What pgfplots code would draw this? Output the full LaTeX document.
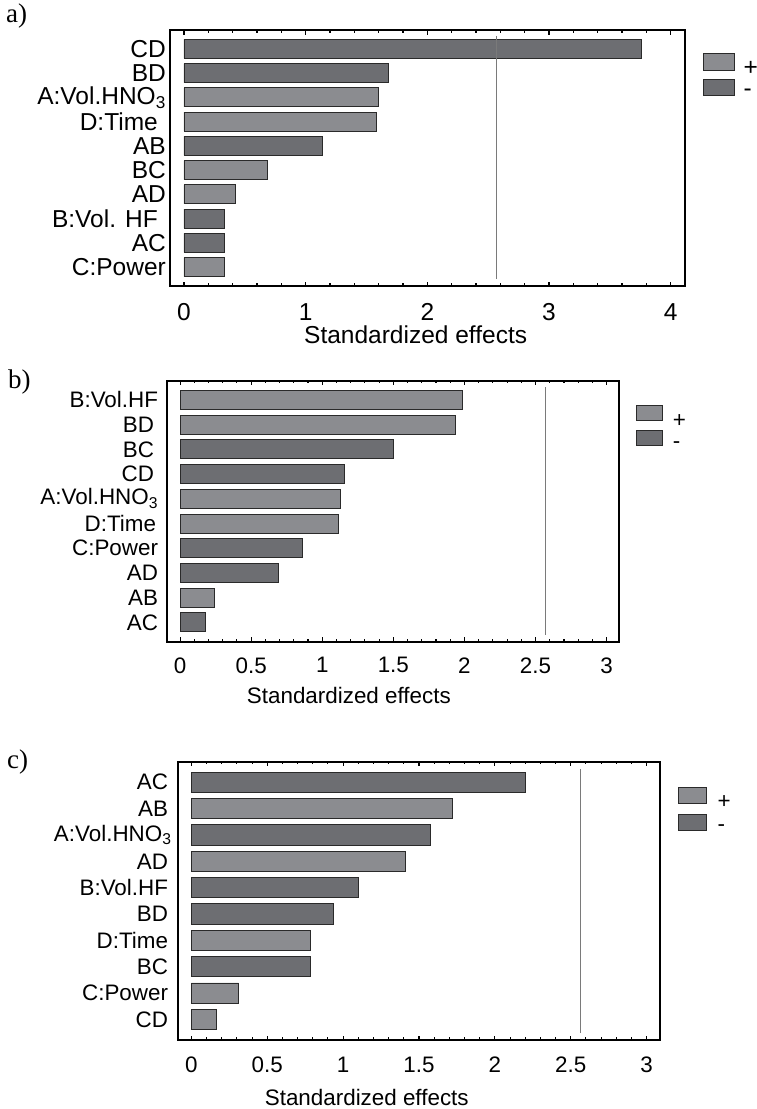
\documentclass[border=0pt]{standalone}
\usepackage{fontspec}
\setmainfont{Liberation Sans}
\newfontfamily\seriffont{Liberation Serif}
\usepackage{pgfplots}
\pgfplotsset{compat=1.18}
\definecolor{barlight}{HTML}{8B8C90}
\definecolor{bardark}{HTML}{6D6E72}
\definecolor{barline}{HTML}{2A2A2A}
\definecolor{refline}{HTML}{7A7A7A}

\pgfplotsset{
  effstyle/.style={
    scale only axis,
    xbar, bar shift=0pt,
    axis line style={line width=1.9pt},
    tick align=inside,
    xtick pos=both,
    ytick style={draw=none},
    minor x tick num=4,
    major tick length=4.5pt,
    minor tick length=2.7pt,
    every tick/.style={black, line width=1.1pt},
    ymin=-0.78, ymax=9.78,
    ytick={0,...,9},
    /pgf/number format/assume math mode=true,
    legend cell align=left,
    yticklabel style={anchor=east, inner sep=0pt},
    xticklabel style={anchor=north, inner sep=0pt},
    xlabel={Standardized effects},
  },
  plusbar/.style={fill=barlight, draw=barline, line width=0.9pt, bar width=#1,
    legend image code/.code={\draw[fill=barlight, draw=barline, line width=0.9pt] (0pt,-\legh) rectangle (\legw,\legh);}},
  minusbar/.style={fill=bardark, draw=barline, line width=0.9pt, bar width=#1,
    legend image code/.code={\draw[fill=bardark, draw=barline, line width=0.9pt] (0pt,-\legh) rectangle (\legw,\legh);}},
}
\newcommand{\legh}{8.35pt}
\newcommand{\legw}{31.3pt}

\begin{document}
\begin{tikzpicture}
\path[use as bounding box] (0,0) rectangle (757pt,-1109pt);

\node[anchor=base west, inner sep=0pt, font=\seriffont\fontsize{27}{32}\selectfont] at (6pt,-22pt) {a)};
\node[anchor=base west, inner sep=0pt, font=\seriffont\fontsize{27}{32}\selectfont] at (8pt,-388pt) {b)};
\node[anchor=base west, inner sep=0pt, font=\seriffont\fontsize{27}{32}\selectfont] at (7pt,-768.7pt) {c)};

% ---------------- a) ----------------
\renewcommand{\legh}{8.35pt}\renewcommand{\legw}{31.3pt}
\begin{axis}[effstyle,
  at={(170pt,-286pt)}, anchor=south west,
  width=515pt, height=256pt,
  xmin=-0.115, xmax=4.118,
  xtick={0,1,2,3,4},
  yticklabels={C:Power, AC, B:Vol. HF\hspace*{8pt}, AD, BC, AB, D:Time\hspace*{8pt}, A:Vol.HNO\textsubscript{3}, BD, CD},
  tick label style={font=\fontsize{24.5}{28}\selectfont},
  yticklabel style={xshift=-4pt},
  xticklabel style={yshift=-17pt},
  xlabel style={font=\fontsize{24.5}{28}\selectfont, at={(axis description cs:0.477,-0.156)}, anchor=north, inner sep=0pt},
  legend style={draw=none, fill=none, at={(axis description cs:1.034,0.909)}, anchor=north west,
    inner sep=0pt, outer sep=0pt, row sep=7.7pt, column sep=9pt,
    nodes={inner sep=0pt, outer sep=0pt}, font=\fontsize{24.5}{28}\selectfont},
]
\addplot[plusbar=19pt] coordinates {(1.60,7) (1.585,6) (0.69,4) (0.42,3) (0.33,0)};
\addlegendentry{\smash{\raisebox{-14pt}{+}}}
\addplot[minusbar=19pt] coordinates {(3.76,9) (1.68,8) (1.14,5) (0.33,2) (0.33,1)};
\addlegendentry{\smash{\raisebox{-10pt}{-}}}
\addplot[sharp plot, draw=refline, line width=1.3pt, forget plot] coordinates {(2.567,-0.5) (2.567,9.53)};
\end{axis}

% ---------------- b) ----------------
\renewcommand{\legh}{7.5pt}\renewcommand{\legw}{25.7pt}
\begin{axis}[effstyle,
  at={(166.7pt,-641.7pt)}, anchor=south west,
  width=452pt, height=261pt,
  xmin=-0.094, xmax=3.085,
  xtick={0,0.5,1,1.5,2,2.5,3},
  yticklabels={AC, AB, AD, C:Power, D:Time\hspace*{2pt}, A:Vol.HNO\textsubscript{3}, CD\hspace*{4pt}, BC\hspace*{4pt}, BD\hspace*{4pt}, B:Vol.HF},
  tick label style={font=\fontsize{22.4}{26}\selectfont},
  yticklabel style={xshift=-8.5pt},
  xticklabel style={yshift=-15.5pt},
  xlabel style={font=\fontsize{22.4}{26}\selectfont, at={(axis description cs:0.403,-0.172)}, anchor=north, inner sep=0pt},
  legend style={draw=none, fill=none, at={(axis description cs:1.038,0.907)}, anchor=north west,
    inner sep=0pt, outer sep=0pt, row sep=9.3pt, column sep=10.3pt,
    nodes={inner sep=0pt, outer sep=0pt}, font=\fontsize{22.4}{26}\selectfont},
]
\addplot[plusbar=19pt] coordinates {(1.985,9) (1.934,8) (1.127,5) (1.116,4) (0.241,1)};
\addlegendentry{\smash{\raisebox{-14.9pt}{+}}}
\addplot[minusbar=19pt] coordinates {(1.503,7) (1.156,6) (0.86,3) (0.691,2) (0.181,0)};
\addlegendentry{\smash{\raisebox{-10.7pt}{-}}}
\addplot[sharp plot, draw=refline, line width=1.1pt, forget plot] coordinates {(2.567,-0.5) (2.567,9.52)};
\end{axis}

% ---------------- c) ----------------
\renewcommand{\legh}{7.7pt}\renewcommand{\legw}{28pt}
\begin{axis}[effstyle,
  at={(177.7pt,-1040pt)}, anchor=south west,
  width=482.3pt, height=278.3pt,
  xmin=-0.09, xmax=3.088,
  xtick={0,0.5,1,1.5,2,2.5,3},
  yticklabels={CD, C:Power, BC, D:Time, BD, B:Vol.HF, AD, A:Vol.HNO\textsubscript{3}\hspace*{-3.5pt}, AB, AC},
  tick label style={font=\fontsize{22.4}{26}\selectfont},
  yticklabel style={xshift=-9.5pt},
  xticklabel style={yshift=-16.7pt},
  xlabel style={font=\fontsize{22.4}{26}\selectfont, at={(axis description cs:0.392,-0.176)}, anchor=north, inner sep=0pt},
  legend style={draw=none, fill=none, at={(axis description cs:1.037,0.908)}, anchor=north west,
    inner sep=0pt, outer sep=0pt, row sep=10.6pt, column sep=10.8pt,
    nodes={inner sep=0pt, outer sep=0pt}, font=\fontsize{22.4}{26}\selectfont},
]
\addplot[plusbar=20.3pt] coordinates {(1.722,8) (1.408,6) (0.784,3) (0.312,1) (0.163,0)};
\addlegendentry{\smash{\raisebox{-14.1pt}{+}}}
\addplot[minusbar=20.3pt] coordinates {(2.20,9) (1.577,7) (1.103,5) (0.935,4) (0.784,2)};
\addlegendentry{\smash{\raisebox{-9.6pt}{-}}}
\addplot[sharp plot, draw=refline, line width=1.1pt, forget plot] coordinates {(2.567,-0.52) (2.567,9.5)};
\end{axis}
\end{tikzpicture}
\end{document}
